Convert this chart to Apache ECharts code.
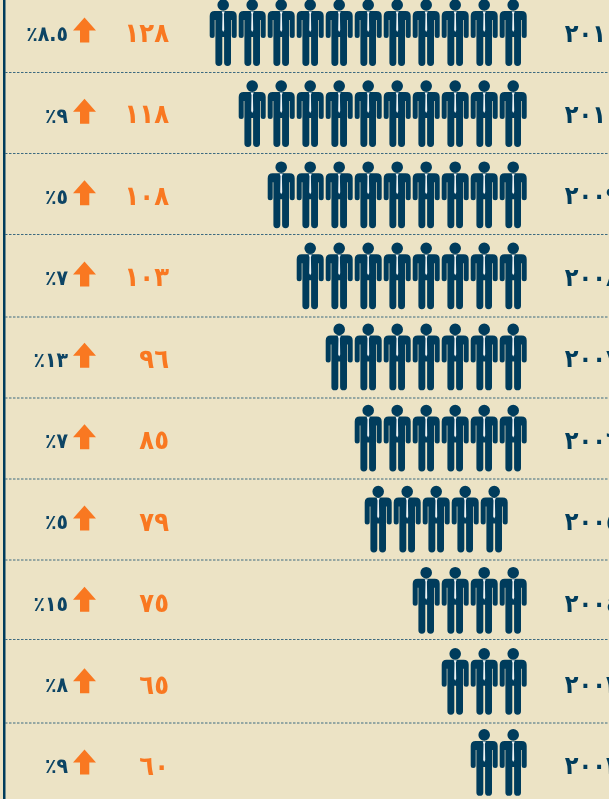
<!DOCTYPE html>
<html>
<head>
<meta charset="utf-8">
<style>
  html, body { margin: 0; padding: 0; background: #ece3c5; overflow: hidden; }
  #main { width: 609px; height: 799px; }
</style>
<script src="https://cdn.jsdelivr.net/npm/echarts@6/dist/echarts.min.js"></script>
</head>
<body>
<div id="main"></div>
<script>
// data, top row first
const years = ['٢٠١١', '٢٠١٠', '٢٠٠٩', '٢٠٠٨', '٢٠٠٧', '٢٠٠٦', '٢٠٠٥', '٢٠٠٤', '٢٠٠٣', '٢٠٠٢']
const totals = ['١٢٨', '١١٨', '١٠٨', '١٠٣', '٩٦', '٨٥', '٧٩', '٧٥', '٦٥', '٦٠']
const growth = ['٪٨.٥', '٪٩', '٪٥', '٪٧', '٪١٣', '٪٧', '٪٥', '٪١٥', '٪٨', '٪٩']
const growthDirection = [1, 1, 1, 1, 1, 1, 1, 1, 1, 1]
const people = [11, 10, 9, 8, 7, 6, 5, 4, 3, 2]

const navy = '#003c5c'
const orange = '#f97821'
const fontFamily = '"DejaVu Sans Condensed", "DejaVu Sans"'

// the two small corner dots keep both paths in the same 29x67 box
const corners = 'M0 0h.01v.01h-.01z M29 67h-.01v-.01h.01z '
const personPath = 'path://' + corners +
  'M8.7 6a5.8 5.8 0 1 0 11.6 0a5.8 5.8 0 1 0 -11.6 0z ' +
  'M6 12H23Q28 12 28 17V36.5A2.5 2.5 0 0 1 23 36.5V21H22.3V63.5A3.3 3.3 0 0 1 15.4 63.5V38H13.6V63.5A3.3 3.3 0 0 1 6.7 63.5V21H6V36.5A2.5 2.5 0 0 1 1 36.5V17Q1 12 6 12Z'
const tiePath = 'path://' + corners + 'M13 12.5H16L15.2 15L15.5 31L14.5 33L13.5 31L13.8 15Z'
const arrowPath = 'path://M11.5 0L23 13H16.3V25H7V13H0Z'

// row rules are not evenly spaced in the original
const ruleYs = [72.5, 153.5, 234.5, 317, 398, 479, 560, 639.5, 723]

function hiddenCategory (gridIndex, data) {
  return { gridIndex: gridIndex, type: 'category', inverse: true, data: data, show: false }
}

function labelAxis (data, margin, color, fontSize) {
  return {
    gridIndex: 2,
    type: 'category',
    inverse: true,
    position: 'right',
    data: data,
    axisLine: { show: false },
    axisTick: { show: false },
    splitLine: { show: false },
    axisLabel: {
      align: 'right',
      margin: margin,
      color: color,
      fontFamily: fontFamily,
      fontWeight: 'bold',
      fontSize: fontSize,
      interval: 0
    }
  }
}

function peopleSeries (name, symbol, color, z) {
  return {
    name: name,
    type: 'pictorialBar',
    xAxisIndex: 0,
    yAxisIndex: 0,
    symbol: symbol,
    symbolSize: [29, 67],
    symbolMargin: 0,
    symbolRepeat: true,
    symbolPosition: 'start',
    barCategoryGap: 0,
    z: z,
    itemStyle: { color: color },
    silent: true,
    // the 2005 row sits a little left of the others
    data: people.map((n, i) => ({
      value: n,
      symbolOffset: i === 6 ? [-19, 0] : [0, 0]
    }))
  }
}

const chart = echarts.init(document.getElementById('main'))
chart.setOption({
  animation: false,
  backgroundColor: '#ece3c5',
  textStyle: { fontFamily: fontFamily },
  grid: [
    { left: 208.7, width: 319, top: -8.05, height: 811, outerBoundsMode: 'none' },
    { left: 73, width: 23, top: -10.67, height: 813.3, outerBoundsMode: 'none' },
    // text rows sit slightly lower than the icons
    { left: 73, width: 23, top: -5.72, height: 814.4, outerBoundsMode: 'none' }
  ],
  xAxis: [
    { gridIndex: 0, type: 'value', inverse: true, min: 0, max: 11, show: false },
    { gridIndex: 1, type: 'value', min: 0, max: 1, show: false },
    { gridIndex: 2, type: 'value', min: 0, max: 1, show: false }
  ],
  yAxis: [
    hiddenCategory(0, years),
    hiddenCategory(1, years),
    labelAxis(years, 523.7, navy, 25),
    labelAxis(totals, 73, orange, 27)
  ],
  series: [
    peopleSeries('people', personPath, navy, 2),
    peopleSeries('ties', tiePath, '#eef3f3', 3),
    {
      name: 'growth',
      type: 'pictorialBar',
      xAxisIndex: 1,
      yAxisIndex: 1,
      symbol: arrowPath,
      symbolSize: [23, 25],
      symbolPosition: 'start',
      itemStyle: { color: orange },
      silent: true,
      label: {
        show: true,
        position: 'left',
        distance: 5,
        offset: [0, 6],
        color: '#0d4464',
        fontFamily: fontFamily,
        fontWeight: 'bold',
        fontSize: 21,
        formatter: p => growth[p.dataIndex]
      },
      data: growthDirection
    }
  ],
  graphic: [
    {
      type: 'rect',
      silent: true,
      shape: { x: 3, y: 0, width: 2.5, height: 799 },
      style: { fill: navy }
    }
  ].concat(ruleYs.map(y => ({
    type: 'line',
    silent: true,
    shape: { x1: 5, y1: y, x2: 609, y2: y },
    style: { stroke: '#3d6a80', lineWidth: 1, lineDash: [2.5, 1.5] }
  })))
})
</script>
</body>
</html>
